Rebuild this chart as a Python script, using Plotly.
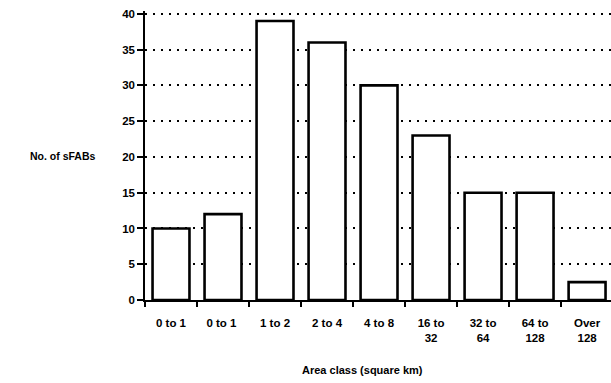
import plotly.graph_objects as go

categories = ["0 to 1", "0 to 1 ", "1 to 2", "2 to 4", "4 to 8", "16 to<br>32", "32 to<br>64", "64 to<br>128", "Over<br>128"]
counts = [10, 12, 39, 36, 30, 23, 15, 15, 2.5]
y_ticks = [0, 5, 10, 15, 20, 25, 30, 35, 40]

fig = go.Figure()
fig.add_trace(go.Bar(
    x=categories, y=counts, width=0.71,
    marker=dict(color="white", line=dict(color="black", width=2.6)),
))

font = "Liberation Sans, Arial, sans-serif"
tickfont = dict(size=11.5, family=font, color="black", weight="bold")
fig.update_layout(
    width=611, height=383,
    margin=dict(l=145, r=0, t=11, b=83),
    paper_bgcolor="white", plot_bgcolor="white",
    showlegend=False,
    font=dict(family=font, size=11, color="black"),
    bargap=0.3,
)
fig.update_xaxes(
    type="category", range=[-0.5, 8.46],
    tickson="boundaries", ticks="outside", ticklen=5, tickwidth=1.5, tickcolor="black",
    ticklabelstandoff=11,
    showline=True, linecolor="black", linewidth=1.5,
    showgrid=False, tickfont=tickfont,
)
fig.update_yaxes(
    range=[0, 40.4], tickvals=y_ticks,
    ticks="outside", ticklen=6, tickwidth=1.5, tickcolor="black",
    showline=True, linecolor="black", linewidth=1.5,
    showgrid=True, gridcolor="black", gridwidth=1.5, griddash="2px,6px",
    zeroline=False, tickfont=tickfont,
)
fig.add_annotation(text="<b>No. of sFABs</b>", xref="paper", yref="paper",
                   x=-0.104, y=0.5, xanchor="right", yanchor="middle", showarrow=False,
                   font=dict(size=10.5, family=font, color="black"))
fig.add_annotation(text="<b>Area class (square km)</b>", xref="paper", yref="paper",
                   x=(362 - 145) / 466, y=-0.241, xanchor="center", yanchor="middle", showarrow=False,
                   font=dict(size=11, family=font, color="black"))

fig.write_html("out.html", config={"displayModeBar": False},
               post_script="document.body.style.margin='0';")
